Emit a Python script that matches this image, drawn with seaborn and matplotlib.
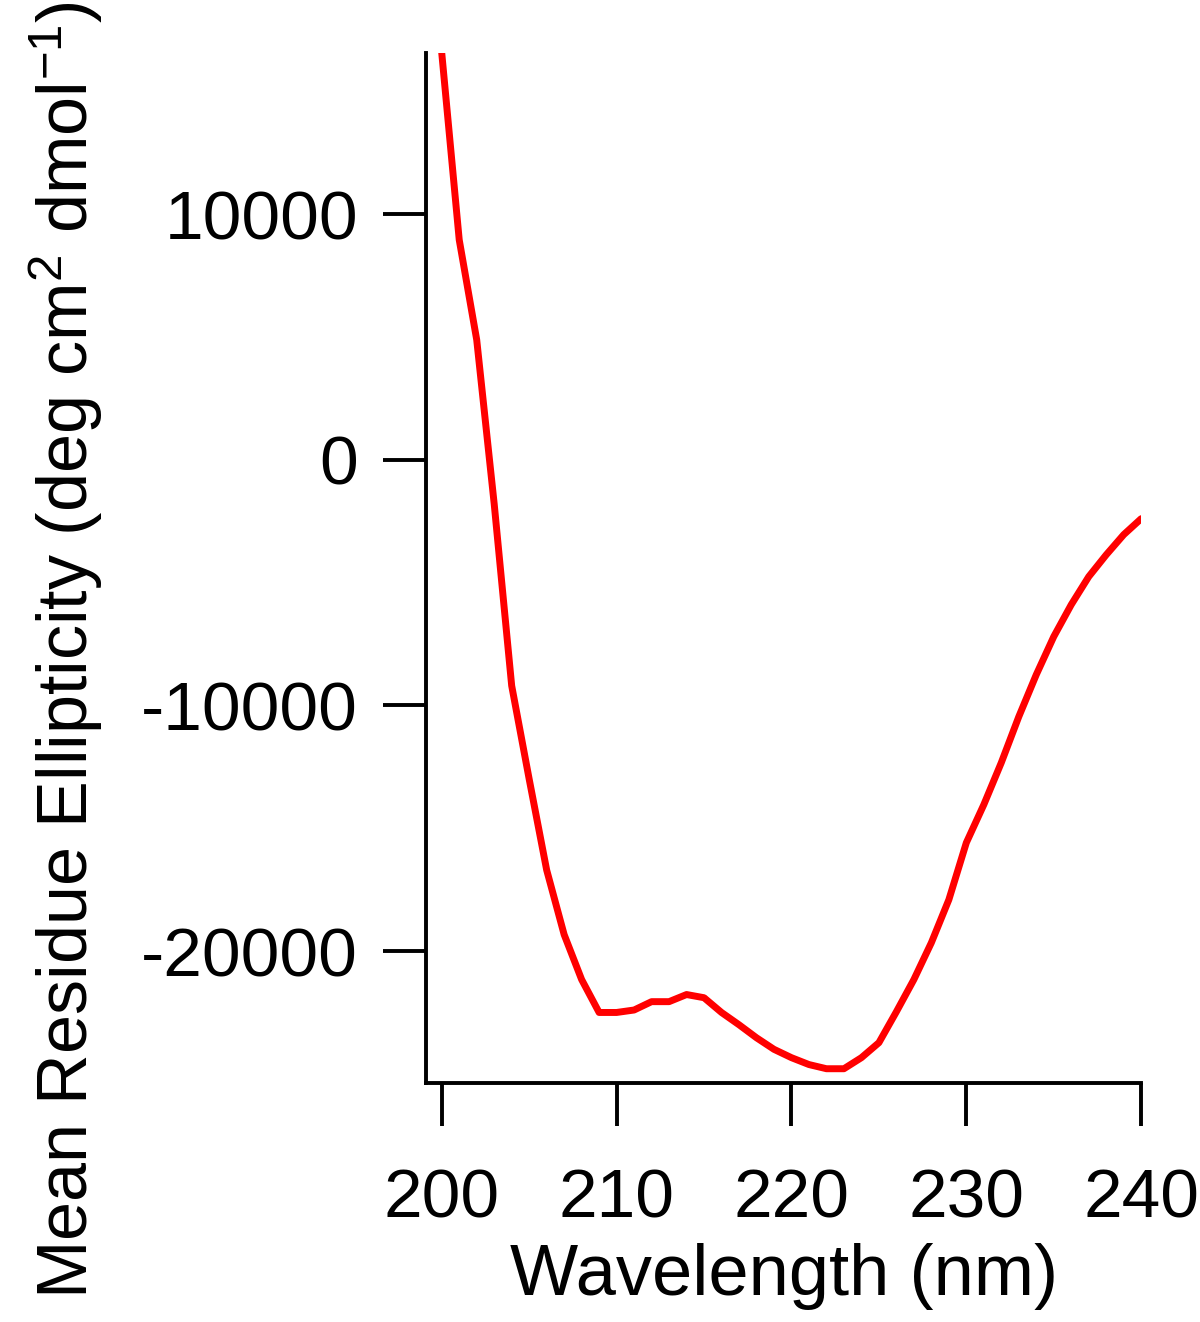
import matplotlib
matplotlib.use("Agg")
import matplotlib.pyplot as plt
import seaborn as sns
import pandas as pd

wavelength = list(range(200, 241))
ellipticity = [16560, 8950, 4880, -1800, -9200, -13000, -16700, -19330, -21160, -22500,
               -22500, -22400, -22060, -22060, -21770, -21900, -22500, -23000, -23530, -24000,
               -24340, -24620, -24790, -24790, -24340, -23730, -22470, -21160, -19660, -17910,
               -15590, -14040, -12330, -10460, -8750, -7200, -5900, -4760, -3870, -3050, -2400]
x_ticks = [200, 210, 220, 230, 240]
y_ticks = [-20000, -10000, 0, 10000]

sns.set_style("ticks")
plt.rcParams['font.family'] = ['Liberation Sans', 'DejaVu Sans']
plt.rcParams['mathtext.fontset'] = 'custom'
plt.rcParams['mathtext.rm'] = 'Liberation Sans'
plt.rcParams['mathtext.it'] = 'Liberation Sans'
plt.rcParams['text.color'] = 'black'
plt.rcParams['axes.labelcolor'] = 'black'

df = pd.DataFrame({"Wavelength": wavelength, "MRE": ellipticity})

fig = plt.figure(figsize=(12, 13.22), dpi=100)
ax = fig.add_axes([0.355, 1 - 1083 / 1322, 0.951 - 0.355, (1083 - 53) / 1322])
sns.lineplot(data=df, x="Wavelength", y="MRE", ax=ax, color="#ff0000", linewidth=5)

ax.set_xlim(199.1, 240)
ax.set_ylim(-25371, 16555)
ax.set_xticks(x_ticks)
ax.set_yticks(y_ticks)
ax.set_xticklabels([str(t) for t in x_ticks])
ax.set_yticklabels([str(t) for t in y_ticks])
sns.despine(ax=ax)
for s in ["left", "bottom"]:
    ax.spines[s].set_linewidth(2.8)
    ax.spines[s].set_color("black")
    ax.spines[s].set_capstyle("projecting")
ax.tick_params(axis="both", direction="out", length=31, width=2.8, colors="black",
               labelsize=50, labelcolor="black")
ax.tick_params(axis="x", pad=30)
ax.tick_params(axis="y", pad=18)
ax.set_xlabel("Wavelength (nm)", fontsize=52, labelpad=8, color="black")
ax.set_ylabel("")
fig.text(65 / 1200, 1 - 650 / 1322,
         r"Mean Residue Ellipticity (deg cm$^{2}$ dmol$^{-1}$)",
         rotation=90, fontsize=50.5, ha="center", va="center", color="black")

fig.savefig("out.png", dpi=100)
